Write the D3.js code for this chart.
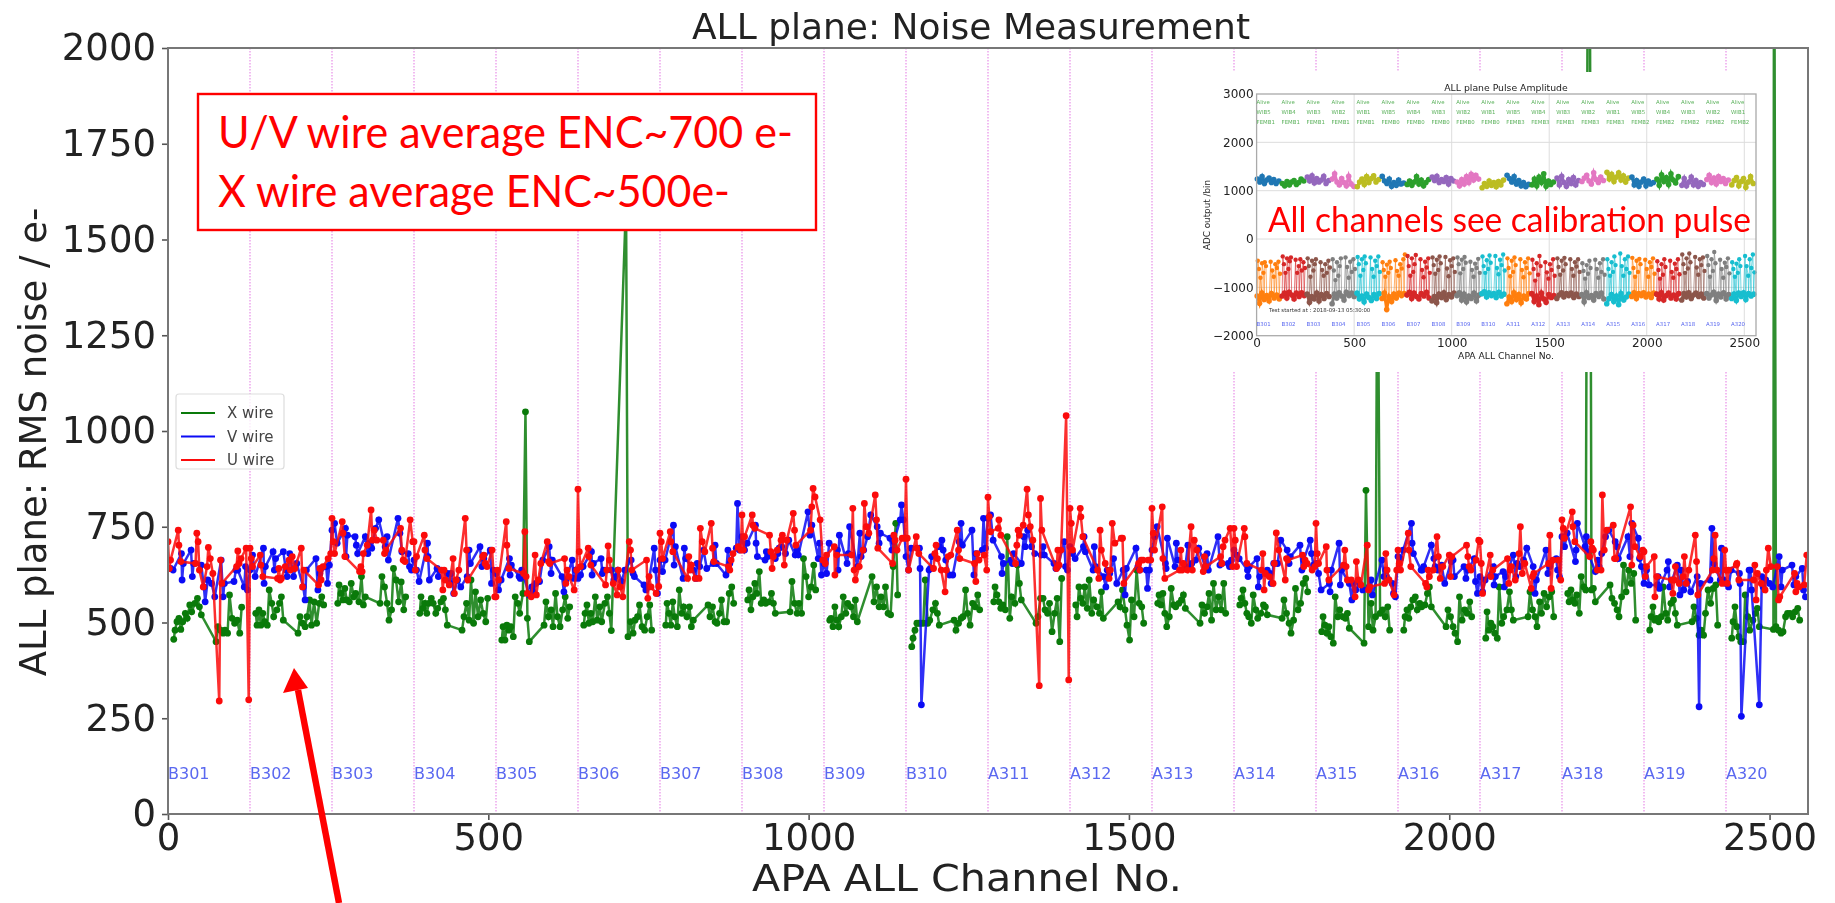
<!DOCTYPE html>
<html>
<head>
<meta charset="utf-8">
<script src="https://cdn.jsdelivr.net/npm/d3@7/dist/d3.min.js"></script>
<style>
  html, body { margin: 0; background: #fff; }
  svg { display: block; }
  text { font-family: "DejaVu Sans", sans-serif; fill: #222; }
  .soft { filter: blur(0.6px); }
</style>
</head>
<body>
<svg id="chart" width="1835" height="903"></svg>
<script>
// board names along the bottom of the main plot
const boards = ["B301","B302","B303","B304","B305","B306","B307","B308","B309","B310",
  "A311","A312","A313","A314","A315","A316","A317","A318","A319","A320"];
const wibs = ["WIB5","WIB4","WIB3","WIB2","WIB1"];
const fembs = ["FEMB1","FEMB0","FEMB3","FEMB2"];

// channel offsets inside one 128 channel board, same order on every board
const xOffsets = [9,11,14,17,20,23,27,30,34,37,42,46,49,52,75,78,82,86,89,93,96,100,104,108,112,115];
const vOffsets = [0,4,8,21,22,24,36,38,40,52,56,58,62,68,73,83,86,88,103,106,109,119,121,124];
const uOffsets = [0,2,4,16,17,20,43,45,47,49,55,61,63,66,70,80,82,84,107,109,111,114,122,126];

// RMS noise, one row per board
const xWire = [
  [456,480,502,511,482,502,524,511,546,528,550,563,541,520,450,489,480,472,480,472,572,511,498,506,472,540],
  [524,493,533,493,524,502,493,585,550,515,533,550,567,506,472,515,498,489,515,559,493,554,498,550,567,546],
  [550,598,576,559,589,559,554,602,567,576,554,620,546,567,550,620,593,550,506,533,641,611,554,606,533,567],
  [524,567,537,550,524,550,563,550,524,537,554,563,533,493,480,515,550,506,611,498,580,515,559,524,502,563],
  [454,489,454,493,480,489,463,567,550,524,576,1050,511,450,493,554,515,533,489,576,515,489,533,567,511,541],
  [493,524,546,498,524,502,567,506,541,502,550,567,524,479,1600,463,502,472,506,515,546,489,480,515,546,480],
  [493,550,524,493,554,515,489,585,524,541,515,541,489,506,546,515,541,502,498,524,559,502,502,576,593,550],
  [559,585,533,567,602,576,633,550,559,550,554,576,550,524,528,607,550,524,550,524,667,620,567,593,650,585],
  [506,511,489,541,506,489,515,567,524,550,541,515,559,502,620,554,593,541,567,541,593,524,520,646,759,572],
  [437,459,480,498,498,498,498,611,498,506,533,550,524,493,506,480,498,511,515,585,524,493,550,541,572,533],
  [554,593,572,554,537,546,533,724,511,567,550,650,602,559,498,515,563,563,533,524,550,476,524,563,450,615],
  [546,515,593,563,550,593,537,611,524,559,541,524,580,511,554,541,585,533,493,454,559,515,637,550,541,498],
  [550,572,546,576,524,489,515,589,546,541,550,559,572,537,498,546,524,541,576,506,602,533,567,533,602,524],
  [546,563,585,550,524,515,498,572,533,511,524,546,541,520,511,559,524,498,472,506,589,533,550,602,615,580],
  [476,515,493,472,489,463,446,567,515,533,515,511,524,485,446,845,489,550,480,515,1600,524,533,515,541,480],
  [480,515,533,511,541,559,567,533,550,541,546,576,593,541,489,533,515,489,472,450,567,506,533,524,554,515],
  [459,528,480,498,489,472,459,593,498,515,533,580,533,506,515,580,533,515,489,554,524,576,541,567,580,515],
  [576,554,585,559,550,572,524,620,593,585,3200,585,589,554,598,563,550,533,515,567,650,580,637,602,628,506],
  [480,515,541,506,511,502,515,593,524,506,550,559,524,493,502,541,511,467,480,467,524,585,550,589,598,493],
  [459,502,541,489,463,450,450,572,515,480,506,524,537,489,2600,489,480,472,476,515,524,524,515,528,537,506]
];
const vWire = [
  [641,641,637,680,611,654,689,620,654,650,593,554,611,602,567,663,567,602,607,637,637,593,646,585],
  [637,676,620,694,602,646,685,637,667,685,637,620,680,620,654,593,559,637,667,585,628,646,602,650],
  [741,759,707,746,672,728,724,702,680,724,680,707,694,746,768,698,724,663,772,733,685,680,646,637],
  [663,637,607,707,672,611,641,620,637,628,602,628,576,611,593,620,689,654,698,646,667,689,602,637],
  [628,585,611,667,624,650,620,615,637,572,593,580,602,607,663,698,628,663,620,580,611,663,615,637],
  [615,624,646,685,624,654,667,628,637,637,611,620,637,607,637,663,628,620,598,585,593,694,637,576],
  [663,633,663,754,650,698,615,694,667,637,615,654,646,689,641,654,702,654,624,689,654,694,811,689],
  [724,689,707,754,707,672,663,685,672,667,680,694,698,680,715,676,689,676,789,728,754,667,707,624],
  [654,628,707,689,637,728,654,680,750,646,733,672,689,724,781,750,707,733,720,689,711,768,807,768],
  [672,637,694,694,641,285,637,641,672,698,715,689,663,624,624,711,759,702,741,624,680,689,772,694],
  [772,781,715,672,628,654,663,654,680,654,724,698,741,698,680,676,698,676,654,641,646,711,646,637],
  [698,680,667,698,724,685,637,698,646,620,593,637,628,667,602,637,572,641,694,646,637,637,589,637],
  [689,724,750,654,641,720,646,707,663,646,702,646,654,663,694,646,680,637,724,650,654,654,646,663],
  [689,676,667,637,620,646,667,593,620,637,628,602,654,654,715,689,654,672,702,637,663,715,680,650],
  [654,628,585,602,580,637,707,598,637,602,559,602,585,602,585,593,611,572,663,620,637,602,576,567],
  [672,667,689,759,707,680,637,637,646,702,667,646,637,650,602,659,663,620,646,615,637,667,607,576],
  [620,580,611,646,598,620,633,593,620,676,620,654,646,663,694,646,576,611,689,628,646,667,637,620],
  [724,698,733,659,689,759,698,724,685,633,663,646,680,724,741,711,698,667,724,672,759,720,667,646],
  [602,637,598,598,620,589,637,659,593,650,572,637,585,607,580,620,280,602,611,746,654,611,694,611],
  [602,593,637,628,602,255,637,637,585,285,620,593,611,602,593,672,593,637,650,598,620,641,585,567]
];
const uWire = [
  [711,641,663,741,702,659,654,733,711,637,593,646,696,667,628,295,663,602,646,687,654,667,694,298],
  [694,667,646,676,650,620,615,641,611,615,646,663,637,672,641,694,593,637,598,641,611,646,667,680],
  [772,711,680,763,733,672,633,646,633,680,702,794,715,741,715,715,680,689,746,689,663,659,768,711],
  [711,637,672,728,689,667,637,585,637,611,598,667,576,611,637,772,689,611,672,676,654,646,689,567],
  [567,637,611,763,702,641,628,737,620,576,567,676,572,611,654,711,659,654,667,602,637,620,585,637],
  [848,685,646,694,672,650,598,637,700,663,602,572,637,593,567,711,689,637,663,563,620,593,576,594],
  [733,711,667,737,711,685,615,672,637,650,615,615,746,711,685,759,694,659,646,637,663,680,698,689],
  [781,689,724,781,754,746,728,685,641,672,689,715,728,650,715,785,741,702,741,802,850,828,768,663],
  [663,654,676,698,624,676,676,798,637,611,646,689,811,750,733,833,768,694,654,728,715,689,720,720],
  [874,720,637,724,694,680,641,680,702,667,637,580,637,672,676,741,689,667,654,607,680,663,676,637],
  [827,776,737,746,768,728,654,702,741,728,754,848,781,750,715,335,824,741,641,689,650,689,1040,350],
  [798,759,689,798,776,724,637,615,741,689,654,615,637,759,707,720,720,602,654,637,663,663,663,663],
  [798,733,689,802,667,615,637,689,637,654,637,750,637,715,689,633,672,646,672,654,698,715,746,646],
  [746,715,646,746,724,654,637,680,585,628,620,602,654,734,689,611,667,663,676,646,663,654,637,646],
  [759,680,654,698,637,611,650,689,646,611,611,567,659,611,598,702,585,593,602,680,637,611,572,637],
  [689,654,637,733,689,646,602,593,637,620,637,724,672,615,646,676,620,672,702,672,646,637,663,715],
  [711,654,576,676,620,637,667,602,637,646,611,680,750,628,654,589,620,628,654,728,589,663,663,611],
  [768,746,720,789,750,711,672,711,694,689,637,637,833,689,741,754,667,667,802,650,754,698,672,689],
  [685,620,646,672,567,620,611,576,611,646,602,620,672,602,637,728,659,572,637,667,728,637,602,689],
  [637,602,637,650,654,611,611,650,559,628,602,585,637,694,646,646,559,567,628,580,602,593,598,676]
];
// extra X reading just before the spike on A320
const xWireExtra = [[2506,482]];

const yTicks = [0,250,500,750,1000,1250,1500,1750,2000];
const xTicks = [0,500,1000,1500,2000,2500];

// inset: pulse amplitude per board
const pulseColorsHigh = ["#1f77b4","#2ca02c","#9467bd","#e377c2","#bcbd22"];
const pulseColorsLow = ["#ff7f0e","#d62728","#8c564b","#7f7f7f","#17becf"];
const highOffsets = [4,16,28,40,52,64,76,88,100,114];
const baseOffsets = [3,15,27,39,52,64,76,90,103,116];
const peakOffsets = [6,12,20,28,35,42,48,72,80,88,96,104,112,120];
const pulseHigh = [
  [1240,1180,1290,1150,1220,1260,1170,1230,1150,1200],
  [1150,1100,1190,1120,1180,1210,1130,1170,1240,1200],
  [1280,1200,1310,1160,1250,1180,1220,1300,1150,1210],
  [1240,1350,1180,1120,1250,1170,1100,1300,1140,1090],
  [1080,1180,1240,1130,1290,1170,1250,1310,1180,1230],
  [1300,1200,1150,1240,1090,1170,1110,1220,1140,1160],
  [1130,1200,1110,1180,1290,1140,1220,1100,1170,1230],
  [1280,1210,1300,1170,1230,1190,1270,1140,1250,1200],
  [1180,1100,1230,1140,1290,1170,1340,1220,1320,1240],
  [1060,1150,1090,1200,1110,1170,1080,1190,1120,1220],
  [1320,1250,1180,1290,1140,1210,1100,1170,1080,1130],
  [1120,1240,1100,1280,1170,1350,1090,1200,1130,1180],
  [1260,1120,1300,1170,1090,1230,1150,1270,1120,1210],
  [1190,1260,1320,1200,1140,1370,1230,1170,1280,1210],
  [1380,1240,1340,1190,1280,1370,1220,1310,1180,1260],
  [1280,1120,1210,1090,1180,1240,1100,1200,1140,1170],
  [1240,1110,1330,1190,1270,1130,1350,1220,1160,1290],
  [1110,1250,1100,1180,1280,1120,1210,1090,1170,1130],
  [1230,1320,1170,1260,1140,1290,1190,1250,1150,1220],
  [1120,1210,1270,1100,1190,1250,1070,1180,1290,1150]
];
const pulseBase = [
  [-1180,-1330,-1120,-1250,-1170,-1280,-1130,-1220,-1160,-1240],
  [-1180,-1120,-1220,-1100,-1160,-1240,-1120,-1190,-1110,-1170],
  [-1140,-1310,-1190,-1240,-1120,-1280,-1150,-1230,-1130,-1190],
  [-1340,-1140,-1220,-1110,-1180,-1260,-1100,-1170,-1120,-1190],
  [-1120,-1240,-1180,-1300,-1140,-1210,-1270,-1150,-1230,-1130],
  [-1230,-1120,-1460,-1190,-1290,-1140,-1220,-1120,-1170,-1130],
  [-1160,-1100,-1230,-1120,-1190,-1240,-1130,-1180,-1100,-1220],
  [-1280,-1190,-1320,-1140,-1210,-1110,-1250,-1150,-1200,-1120],
  [-1170,-1110,-1260,-1140,-1300,-1180,-1230,-1120,-1280,-1160],
  [-1130,-1090,-1200,-1110,-1170,-1130,-1210,-1100,-1180,-1140],
  [-1340,-1200,-1290,-1110,-1250,-1150,-1320,-1180,-1240,-1130],
  [-1130,-1290,-1180,-1360,-1120,-1240,-1310,-1150,-1210,-1170],
  [-1230,-1160,-1110,-1200,-1130,-1170,-1120,-1210,-1140,-1190],
  [-1150,-1300,-1110,-1210,-1170,-1260,-1130,-1190,-1120,-1240],
  [-1340,-1230,-1150,-1290,-1180,-1360,-1130,-1260,-1200,-1140],
  [-1190,-1110,-1230,-1130,-1170,-1110,-1200,-1140,-1210,-1120],
  [-1140,-1240,-1110,-1260,-1170,-1120,-1220,-1160,-1240,-1130],
  [-1260,-1130,-1200,-1110,-1230,-1160,-1120,-1190,-1140,-1220],
  [-1130,-1220,-1160,-1100,-1270,-1140,-1200,-1110,-1240,-1150],
  [-1230,-1140,-1270,-1120,-1190,-1110,-1250,-1130,-1180,-1140]
];
const pulsePeak = [
  [-450,-620,-800,-500,-700,-480,-560,-470,-650,-780,-520,-600,-470,-720],
  [-360,-520,-700,-400,-620,-460,-380,-430,-700,-560,-420,-650,-480,-600],
  [-400,-560,-780,-450,-650,-520,-420,-480,-640,-760,-520,-700,-450,-590],
  [-420,-650,-850,-480,-760,-560,-400,-380,-580,-800,-470,-680,-420,-620],
  [-370,-520,-760,-420,-640,-360,-500,-380,-620,-780,-450,-560,-360,-680],
  [-480,-640,-780,-530,-700,-470,-600,-440,-660,-760,-520,-610,-420,-320],
  [-350,-560,-760,-400,-680,-520,-330,-420,-640,-790,-470,-590,-400,-700],
  [-380,-540,-720,-430,-640,-360,-500,-370,-610,-770,-440,-560,-400,-680],
  [-380,-520,-710,-430,-620,-370,-490,-470,-640,-780,-510,-600,-410,-700],
  [-360,-560,-700,-440,-620,-340,-490,-350,-600,-730,-430,-540,-320,-650],
  [-400,-600,-770,-450,-680,-380,-540,-420,-640,-790,-480,-600,-400,-710],
  [-430,-620,-860,-500,-740,-350,-560,-480,-690,-820,-520,-640,-420,-760],
  [-400,-580,-740,-450,-650,-390,-520,-420,-620,-760,-480,-570,-420,-680],
  [-500,-660,-820,-540,-720,-450,-600,-430,-620,-800,-500,-680,-420,-740],
  [-420,-620,-760,-480,-680,-360,-540,-300,-560,-760,-420,-620,-360,-700],
  [-390,-600,-780,-450,-680,-410,-520,-430,-620,-780,-480,-580,-400,-720],
  [-460,-640,-820,-520,-740,-420,-580,-450,-680,-800,-510,-620,-420,-730],
  [-320,-520,-700,-400,-610,-300,-480,-370,-590,-740,-420,-540,-380,-660],
  [-350,-540,-780,-420,-660,-270,-500,-430,-620,-800,-490,-580,-400,-710],
  [-480,-620,-780,-510,-700,-420,-560,-350,-560,-760,-420,-600,-320,-690]
];

const svg = d3.select("#chart");
const plot = {left: 168, right: 1808, top: 48, bottom: 814};

const x = d3.scaleLinear().domain([0, 2560]).range([plot.left, plot.right]);
const y = d3.scaleLinear().domain([0, 2000]).range([plot.bottom, plot.top]);

svg.append("defs").append("clipPath").attr("id", "plotClip")
  .append("rect")
  .attr("x", plot.left).attr("y", plot.top)
  .attr("width", plot.right - plot.left).attr("height", plot.bottom - plot.top);

function expand(rows, offsets) {
  return rows.flatMap((row, b) => row.map((v, i) => [b * 128 + offsets[i], v]));
}

const main = svg.append("g").attr("class", "soft");
const marks = main.append("g").attr("clip-path", "url(#plotClip)");
const line = d3.line().x(d => x(d[0])).y(d => y(d[1]));

// board separators
marks.selectAll("line.board").data(boards.slice(1)).join("line")
  .attr("class", "board")
  .attr("x1", (d, i) => x((i + 1) * 128)).attr("x2", (d, i) => x((i + 1) * 128))
  .attr("y1", plot.top).attr("y2", plot.bottom)
  .attr("stroke", "#eeaaee").attr("stroke-width", 1.6).attr("stroke-dasharray", "1.5 1.5");

// X wire has no line across boards
const xRows = xWire.map((row, b) => {
  const pts = row.map((v, i) => [b * 128 + xOffsets[i], v]);
  xWireExtra.filter(e => Math.floor(e[0] / 128) === b).forEach(e => pts.push(e));
  return pts.sort((p, q) => p[0] - q[0]);
});
const wireColors = {x: "#0a7a0a", v: "#0b0bf5", u: "#fb0b0b"};

function drawWire(rows, color) {
  const g = marks.append("g");
  g.selectAll("path").data(rows).join("path")
    .attr("d", line).attr("fill", "none")
    .attr("stroke", color).attr("stroke-width", 2.5).attr("stroke-opacity", 0.85);
  g.selectAll("circle").data(rows.flat()).join("circle")
    .attr("cx", d => x(d[0])).attr("cy", d => y(d[1])).attr("r", 3.4)
    .attr("fill", color);
}
drawWire(xRows, wireColors.x);
drawWire([expand(vWire, vOffsets)], wireColors.v);
drawWire([expand(uWire, uOffsets)], wireColors.u);

marks.selectAll("text.board").data(boards).join("text")
  .attr("class", "board")
  .attr("x", (d, i) => x(i * 128)).attr("y", 779)
  .attr("font-size", 16).style("fill", "#5a68f0").text(d => d);

// axes
const axisLeft = main.append("g").attr("transform", `translate(${plot.left},0)`)
  .call(d3.axisLeft(y).tickValues(yTicks).tickFormat(d3.format("d")).tickSize(6).tickPadding(6));
const axisBottom = main.append("g").attr("transform", `translate(0,${plot.bottom})`)
  .call(d3.axisBottom(x).tickValues(xTicks).tickFormat(d3.format("d")).tickSize(6).tickPadding(4));
[axisLeft, axisBottom].forEach(a => {
  a.selectAll("text").attr("font-size", 37).attr("font-family", "DejaVu Sans");
  a.selectAll(".domain").remove();
  a.selectAll("line").attr("stroke", "#555").attr("stroke-width", 1.6);
});
main.append("rect")
  .attr("x", plot.left).attr("y", plot.top)
  .attr("width", plot.right - plot.left).attr("height", plot.bottom - plot.top)
  .attr("fill", "none").attr("stroke", "#777").attr("stroke-width", 2);

main.append("text").attr("x", 971).attr("y", 39).attr("text-anchor", "middle")
  .attr("font-size", 36).text("ALL plane: Noise Measurement");
main.append("text").attr("x", 967).attr("y", 891).attr("text-anchor", "middle")
  .attr("font-size", 38).attr("textLength", 430).attr("lengthAdjust", "spacingAndGlyphs").text("APA ALL Channel No.");
main.append("text").attr("transform", "translate(46,442) rotate(-90)").attr("text-anchor", "middle")
  .attr("font-size", 37).text("ALL plane: RMS noise / e-");

// legend
const legend = main.append("g");
legend.append("rect").attr("x", 176).attr("y", 394).attr("width", 108).attr("height", 75).attr("rx", 3)
  .attr("fill", "#fff").attr("fill-opacity", 0.8).attr("stroke", "#ddd").attr("stroke-width", 1.2);
[["X wire", wireColors.x], ["V wire", wireColors.v], ["U wire", wireColors.u]].forEach((e, i) => {
  legend.append("line").attr("x1", 181).attr("x2", 215).attr("y1", 413 + i * 23.5).attr("y2", 413 + i * 23.5)
    .attr("stroke", e[1]).attr("stroke-width", 2.2);
  legend.append("text").attr("x", 227).attr("y", 418 + i * 23.5).attr("font-size", 15).style("fill", "#444").text(e[0]);
});

// red box annotation
const note = svg.append("g");
note.append("rect").attr("x", 198).attr("y", 94).attr("width", 618).attr("height", 136)
  .attr("fill", "#fff").attr("stroke", "#f00").attr("stroke-width", 2.4);
note.append("text").attr("x", 218).attr("y", 148).attr("font-size", 45)
  .attr("textLength", 575).attr("lengthAdjust", "spacingAndGlyphs")
  .style("font-family", "Lato").style("fill", "#f00").text("U/V wire average ENC~700 e-");
note.append("text").attr("x", 218).attr("y", 207).attr("font-size", 45)
  .attr("textLength", 512).attr("lengthAdjust", "spacingAndGlyphs")
  .style("font-family", "Lato").style("fill", "#f00").text("X wire average ENC~500e-");

// arrow
note.append("line").attr("x1", 339).attr("y1", 903).attr("x2", 298).attr("y2", 690)
  .attr("stroke", "#f00").attr("stroke-width", 6.5);
note.append("polygon").attr("points", "294,668 283,693 308,688").attr("fill", "#f00");

// inset
const inset = svg.append("g");
inset.append("rect").attr("x", 1205).attr("y", 72).attr("width", 567).attr("height", 300).attr("fill", "#fff");
const insetG = inset.append("g").attr("class", "soft");
const ix = d3.scaleLinear().domain([0, 2560]).range([1256.6, 1756]);
const iy = d3.scaleLinear().domain([-2000, 3000]).range([335.7, 94]);
const ixTicks = xTicks;
const iyTicks = [-2000,-1000,0,1000,2000,3000];

insetG.append("g").selectAll("line").data(ixTicks.slice(1)).join("line")
  .attr("x1", d => ix(d)).attr("x2", d => ix(d)).attr("y1", 94).attr("y2", 335.7)
  .attr("stroke", "#ddd").attr("stroke-width", 1);
insetG.append("g").selectAll("line").data(iyTicks.slice(1, -1)).join("line")
  .attr("x1", ix(0)).attr("x2", ix(2560)).attr("y1", d => iy(d)).attr("y2", d => iy(d))
  .attr("stroke", "#ddd").attr("stroke-width", 1);

const iline = d3.line().x(d => ix(d[0])).y(d => iy(d[1]));
pulseHigh.forEach((row, b) => {
  const pts = row.map((v, i) => [b * 128 + highOffsets[i], v]);
  const color = pulseColorsHigh[b % 5];
  insetG.append("path").attr("d", iline(pts)).attr("fill", "none").attr("stroke", color).attr("stroke-width", 3);
  insetG.append("g").selectAll("circle").data(pts).join("circle")
    .attr("cx", d => ix(d[0])).attr("cy", d => iy(d[1])).attr("r", 2.8).attr("fill", color);
});
pulseBase.forEach((row, b) => {
  const color = pulseColorsLow[b % 5];
  const low = row.map((v, i) => [b * 128 + baseOffsets[i], v]);
  const top = pulsePeak[b].map((v, i) => [b * 128 + peakOffsets[i], v]);
  const all = low.concat(top).sort((p, q) => p[0] - q[0]);
  insetG.append("path").attr("d", iline(all)).attr("fill", "none")
    .attr("stroke", color).attr("stroke-width", 1).attr("stroke-opacity", 0.6);
  insetG.append("path").attr("d", iline(low)).attr("fill", "none").attr("stroke", color).attr("stroke-width", 3);
  insetG.append("g").selectAll("circle").data(all).join("circle")
    .attr("cx", d => ix(d[0])).attr("cy", d => iy(d[1])).attr("r", d => d[1] < -1000 ? 2.8 : 2.2).attr("fill", color);
});

const iAxisL = insetG.append("g").attr("transform", "translate(1256.6,0)")
  .call(d3.axisLeft(iy).tickValues(iyTicks).tickFormat(d3.format("d")).tickSize(0).tickPadding(3));
const iAxisB = insetG.append("g").attr("transform", "translate(0,335.7)")
  .call(d3.axisBottom(ix).tickValues(ixTicks).tickFormat(d3.format("d")).tickSize(0).tickPadding(3));
[iAxisL, iAxisB].forEach(a => {
  a.selectAll("text").attr("font-size", 12).attr("font-family", "DejaVu Sans");
  a.selectAll(".domain").remove();
});
insetG.append("rect").attr("x", 1256.6).attr("y", 94).attr("width", 499.4).attr("height", 241.7)
  .attr("fill", "none").attr("stroke", "#aaa").attr("stroke-width", 1.3);

insetG.append("text").attr("x", 1506).attr("y", 91).attr("text-anchor", "middle").attr("font-size", 9.3)
  .text("ALL plane Pulse Amplitude");
insetG.append("text").attr("x", 1506).attr("y", 359).attr("text-anchor", "middle").attr("font-size", 9.2)
  .text("APA ALL Channel No.");
insetG.append("text").attr("transform", "translate(1210,215) rotate(-90)").attr("text-anchor", "middle")
  .attr("font-size", 8.8).text("ADC output /bin");
insetG.append("text").attr("x", 1269).attr("y", 312).attr("font-size", 5.4).style("fill", "#333")
  .text("Test started at  : 2018-09-13 05:30:00");

const boardText = insetG.append("g").attr("font-size", 5.4);
boards.forEach((name, b) => {
  const bx = ix(b * 128);
  boardText.append("text").attr("x", bx).attr("y", 104).style("fill", "#5cb25c").text("Alive");
  boardText.append("text").attr("x", bx).attr("y", 114).style("fill", "#5cb25c").text(wibs[b % 5]);
  boardText.append("text").attr("x", bx).attr("y", 123.5).style("fill", "#5cb25c").text(fembs[Math.floor(b / 5)]);
  boardText.append("text").attr("x", bx).attr("y", 326).style("fill", "#5a68f0").text(name);
});

inset.append("text").attr("x", 1268).attr("y", 232).attr("font-size", 35)
  .attr("textLength", 483).attr("lengthAdjust", "spacingAndGlyphs")
  .style("font-family", "Lato").style("fill", "#f00").text("All channels see calibration pulse");
</script>
</body>
</html>
